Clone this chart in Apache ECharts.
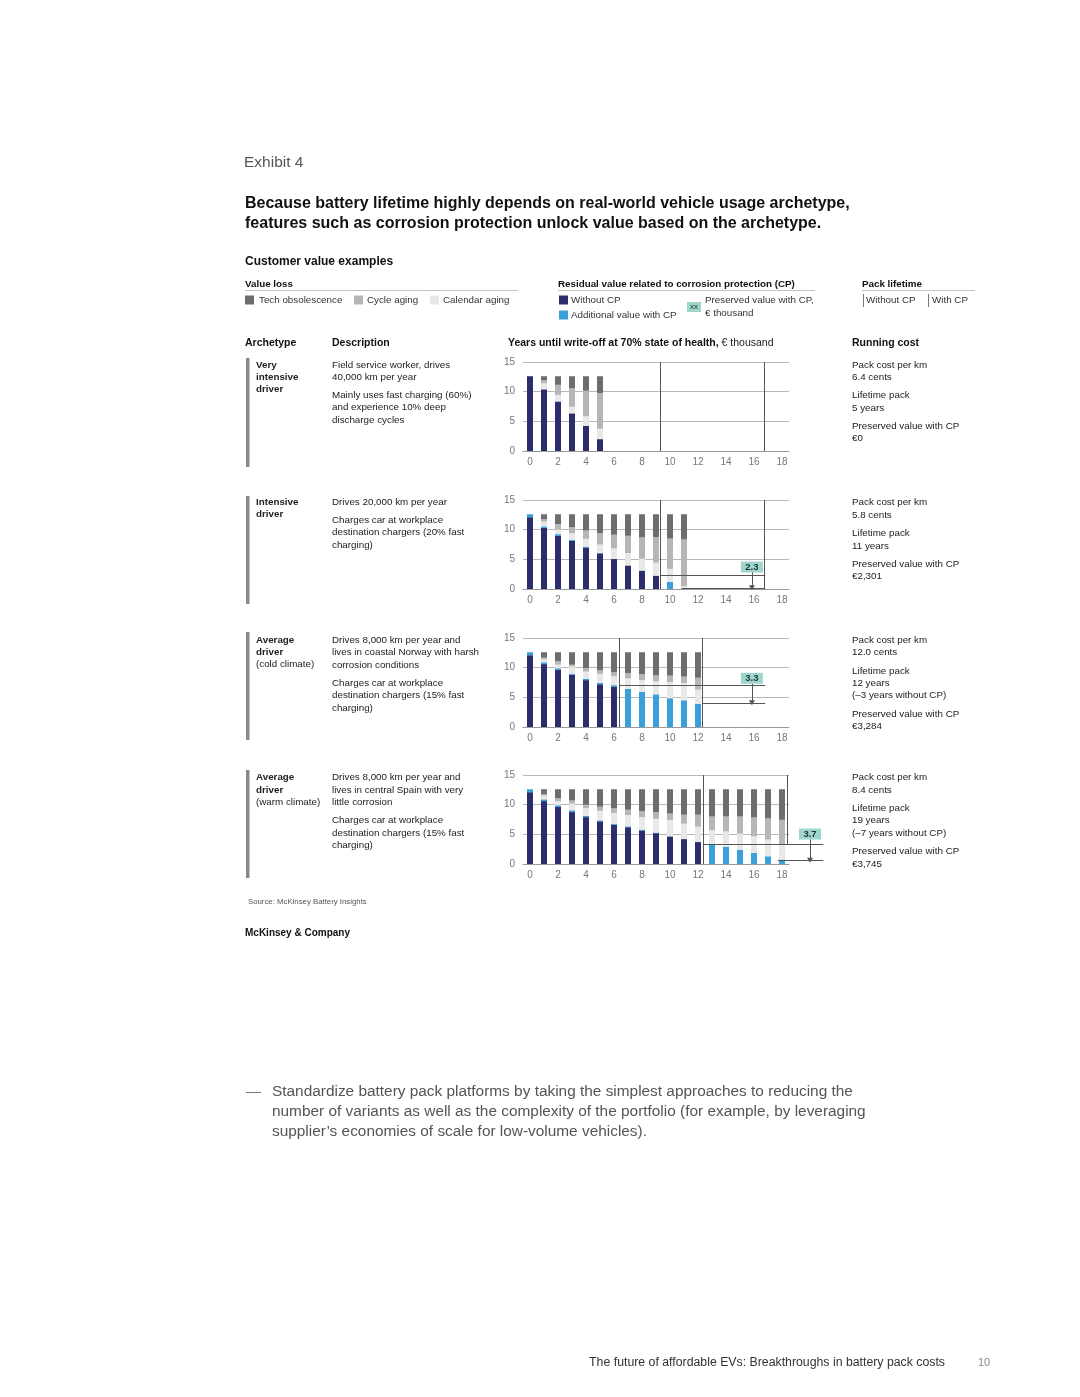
<!DOCTYPE html>
<html><head><meta charset="utf-8">
<script src="https://cdn.jsdelivr.net/npm/echarts@6/dist/echarts.min.js"></script>
<style>html,body{margin:0;padding:0;background:#fff}#c{width:1080px;height:1397px}</style>
</head><body><div id="c"></div><script>
// ---------- data ----------
const years = ['0','1','2','3','4','5','6','7','8','9','10','11','12','13','14','15','16','17','18'];
const yTicks = [0, 5, 10, 15];

// Panel 1: Very intensive driver
const p1WithoutCP = [12.6, 10.4, 8.35, 6.35, 4.25, 2.0, null, null, null, null, null, null, null, null, null, null, null, null, null];
const p1AddCP     = [0, 0, 0, 0, 0, 0, null, null, null, null, null, null, null, null, null, null, null, null, null];
const p1Calendar  = [0, 1.0, 1.1, 1.1, 1.6, 1.75, null, null, null, null, null, null, null, null, null, null, null, null, null];
const p1Cycle     = [0, 0.5, 1.7, 3.1, 4.3, 6.0, null, null, null, null, null, null, null, null, null, null, null, null, null];
const p1Tech      = [0, 0.7, 1.45, 2.05, 2.45, 2.85, null, null, null, null, null, null, null, null, null, null, null, null, null];

// Panel 2: Intensive driver
const p2WithoutCP = [12.1, 10.3, 8.95, 8.1, 7.0, 6.0, 5.05, 3.97, 3.1, 2.25, 0, 0, null, null, null, null, null, null, null];
const p2AddCP     = [0.5, 0.25, 0.3, 0.2, 0.15, 0.1, 0, 0, 0, 0, 1.2, 0.15, null, null, null, null, null, null, null];
const p2Calendar  = [0, 0.8, 0.8, 1.1, 1.3, 1.4, 1.8, 2.1, 2.0, 2.2, 2.2, 0.3, null, null, null, null, null, null, null];
const p2Cycle     = [0, 0.4, 0.9, 1.0, 1.4, 1.9, 2.3, 2.9, 3.6, 4.3, 5.1, 7.9, null, null, null, null, null, null, null];
const p2Tech      = [0, 0.85, 1.65, 2.2, 2.75, 3.2, 3.45, 3.63, 3.9, 3.85, 4.1, 4.25, null, null, null, null, null, null, null];

// Panel 3: Average driver (cold climate)
const p3WithoutCP = [12.1, 10.6, 9.6, 8.8, 7.9, 7.2, 6.75, 0, 0, 0, 0, 0, 0, null, null, null, null, null, null];
const p3AddCP     = [0.5, 0.3, 0.3, 0.2, 0.25, 0.25, 0.3, 6.4, 5.9, 5.5, 4.85, 4.5, 3.9, null, null, null, null, null, null];
const p3Calendar  = [0, 0.5, 0.6, 1.2, 1.2, 1.5, 1.5, 1.8, 2.0, 2.2, 2.7, 2.9, 2.4, null, null, null, null, null, null];
const p3Cycle     = [0, 0.3, 0.6, 0.3, 0.6, 0.6, 0.7, 0.9, 1.0, 1.0, 1.1, 1.1, 2.0, null, null, null, null, null, null];
const p3Tech      = [0, 0.9, 1.5, 2.1, 2.65, 3.05, 3.35, 3.5, 3.7, 3.9, 3.95, 4.1, 4.3, null, null, null, null, null, null];

// Panel 4: Average driver (warm climate)
const p4WithoutCP = [12.1, 10.6, 9.6, 8.75, 7.9, 7.2, 6.6, 6.2, 5.65, 5.2, 4.6, 4.2, 3.7, 0, 0, 0, 0, 0, 0];
const p4AddCP     = [0.5, 0.3, 0.3, 0.3, 0.2, 0.15, 0.2, 0.15, 0.15, 0.1, 0.1, 0, 0, 3.4, 2.9, 2.4, 1.85, 1.3, 0.75];
const p4Calendar  = [0, 0.6, 0.7, 1.1, 1.3, 1.6, 1.8, 1.9, 2.1, 2.3, 2.7, 2.6, 2.6, 2.3, 2.6, 2.7, 2.8, 2.8, 2.6];
const p4Cycle     = [0, 0.3, 0.5, 0.55, 0.6, 0.7, 0.8, 0.9, 1.0, 1.1, 1.1, 1.5, 2.0, 2.3, 2.5, 2.9, 3.2, 3.6, 4.1];
const p4Tech      = [0, 0.8, 1.5, 1.9, 2.6, 2.95, 3.2, 3.45, 3.7, 3.9, 4.1, 4.3, 4.3, 4.6, 4.6, 4.6, 4.75, 4.9, 5.15];

// Pack lifetime marker lines (year positions: without CP, with CP)
const lifetimeLines = [[9.3, 16.7], [9.3, 16.7], [6.35, 12.3], [12.35, 18.35]];
// Preserved value annotation (€ thousand)
const preservedLabels = [null, '2.3', '3.3', '3.7'];
const residualUpper   = [null, 2.4, 7.0, 3.37];   // residual at write-off without CP
const residualLower   = [null, 0.1, 4.0, 0.55];   // residual at write-off with CP
const lowerStartYear  = [null, 10.85, 12.3, 17.7];
const arrowYear       = [null, 15.85, 15.85, 20.0];
const labelLevel      = [null, 3.7, 8.2, 5.05];

// ---------- styles ----------
const FF = "'Liberation Sans', Arial, sans-serif";
const C_NAVY = '#2c2d6b', C_BLUE = '#3aa0d9', C_CAL = '#e8e8e8', C_CYC = '#b6b6b6', C_TECH = '#6d6d6d', C_TEAL = '#9fd6cc';
const panelTops = [362, 500, 638, 775];
const panelH = 89;

const panels = [
  [p1WithoutCP, p1AddCP, p1Calendar, p1Cycle, p1Tech],
  [p2WithoutCP, p2AddCP, p2Calendar, p2Cycle, p2Tech],
  [p3WithoutCP, p3AddCP, p3Calendar, p3Cycle, p3Tech],
  [p4WithoutCP, p4AddCP, p4Calendar, p4Cycle, p4Tech]
];
const segColors = [C_NAVY, C_BLUE, C_CAL, C_CYC, C_TECH];
const segNames = ['Without CP', 'Additional value with CP', 'Calendar aging', 'Cycle aging', 'Tech obsolescence'];

const grid = [], xAxis = [], yAxis = [], series = [];
panels.forEach((p, k) => {
  const top = panelTops[k];
  grid.push({left: 523, top: top, width: 266, height: panelH});
  grid.push({left: 523, top: top, width: 322, height: panelH});
  xAxis.push({gridIndex: 2*k, type: 'category', data: years, boundaryGap: true,
    axisTick: {show: false}, axisLine: {lineStyle: {color: '#9a9a9a'}},
    axisLabel: {interval: 1, color: '#777', fontSize: 10, margin: 6, fontFamily: FF}});
  xAxis.push({gridIndex: 2*k+1, type: 'value', min: -0.5, max: 22.5, show: false});
  yAxis.push({gridIndex: 2*k, type: 'value', min: yTicks[0], max: yTicks[3], interval: 5,
    axisLine: {show: false}, axisTick: {show: false},
    splitLine: {lineStyle: {color: '#b8b8b8', width: 1}},
    axisLabel: {color: '#777', fontSize: 10, margin: 8, fontFamily: FF}});
  yAxis.push({gridIndex: 2*k+1, type: 'value', min: 0, max: 15, show: false});
  p.forEach((arr, s) => {
    series.push({type: 'bar', name: segNames[s], xAxisIndex: 2*k, yAxisIndex: 2*k, stack: 'st' + k,
      barWidth: 6, data: arr, silent: true, itemStyle: {color: segColors[s]}});
  });
  // annotation overlay
  const L = lifetimeLines[k];
  const ml = [];
  ml.push([{coord: [L[0], 0]}, {coord: [L[0], 15]}]);
  if (k === 3) ml.push([{coord: [L[1], residualUpper[k]]}, {coord: [L[1], 15]}]);
  else ml.push([{coord: [L[1], 0]}, {coord: [L[1], 15]}]);
  const mp = [];
  if (preservedLabels[k]) {
    const endX = arrowYear[k] + 0.95;
    ml.push([{coord: [L[0], residualUpper[k]]}, {coord: [endX, residualUpper[k]]}]);
    ml.push([{coord: [lowerStartYear[k], residualLower[k]]}, {coord: [endX, residualLower[k]]}]);
    ml.push([{coord: [arrowYear[k], labelLevel[k] - 0.85]},
             {coord: [arrowYear[k], residualLower[k] + 0.1], symbol: 'triangle', symbolSize: [6, 5]}]);
    mp.push({coord: [arrowYear[k], labelLevel[k]], value: preservedLabels[k]});
  }
  series.push({type: 'line', xAxisIndex: 2*k+1, yAxisIndex: 2*k+1, data: [], silent: true,
    markLine: {silent: true, symbol: 'none', animation: false, label: {show: false},
      lineStyle: {color: '#555', width: 1, type: 'solid'}, emphasis: {disabled: true}, data: ml},
    markPoint: {silent: true, animation: false, symbol: 'rect', symbolSize: [22, 11],
      itemStyle: {color: C_TEAL},
      label: {show: true, position: 'inside', color: '#1c3434', fontSize: 9.5, fontWeight: 'bold', fontFamily: FF,
        formatter: (d) => d.value},
      data: mp}
  });
});

// ---------- page text ----------
const G = [];
function T(x, y, text, size, opt) {
  opt = opt || {};
  G.push({type: 'text', x: x, y: y, silent: true, z: 10,
    style: {text: text, fill: opt.fill || '#222', align: opt.align || 'left', verticalAlign: 'middle',
      font: (opt.bold ? 'bold ' : '') + size + 'px ' + FF, rich: opt.rich}});
}
function R(x, y, w, h, fill) { G.push({type: 'rect', silent: true, shape: {x, y, width: w, height: h}, style: {fill}}); }
function Ln(x1, y1, x2, y2, stroke, lw) { G.push({type: 'line', silent: true, shape: {x1, y1, x2, y2}, style: {stroke, lineWidth: lw || 1}}); }

T(244, 163, 'Exhibit 4', 15.5, {fill: '#555'});
T(245, 204, 'Because battery lifetime highly depends on real-world vehicle usage archetype,', 16, {bold: true, fill: '#111'});
T(245, 224, 'features such as corrosion protection unlock value based on the archetype.', 16, {bold: true, fill: '#111'});
T(245, 262, 'Customer value examples', 12, {bold: true, fill: '#111'});

T(245, 284, 'Value loss', 9.8, {bold: true, fill: '#111'});
Ln(245, 290.5, 518, 290.5, '#c4c4c4');
R(245, 295.5, 9, 9, C_TECH); T(259, 300.5, 'Tech obsolescence', 9.8, {fill: '#333'});
R(354, 295.5, 9, 9, C_CYC); T(367, 300.5, 'Cycle aging', 9.8, {fill: '#333'});
R(430, 295.5, 9, 9, C_CAL); T(443, 300.5, 'Calendar aging', 9.8, {fill: '#333'});

T(558, 284, 'Residual value related to corrosion protection (CP)', 9.8, {bold: true, fill: '#111'});
Ln(558, 290.5, 815, 290.5, '#c4c4c4');
R(559, 295.5, 9, 9, C_NAVY); T(571, 300.5, 'Without CP', 9.8, {fill: '#333'});
R(559, 310.5, 9, 9, C_BLUE); T(571, 315.5, 'Additional value with CP', 9.8, {fill: '#333'});
R(687, 302, 14, 10, C_TEAL); T(694, 307, 'xx', 8, {fill: '#1c3434', align: 'center'});
T(705, 300.5, 'Preserved value with CP,', 9.8, {fill: '#333'});
T(705, 313.5, '€ thousand', 9.8, {fill: '#333'});

T(862, 284, 'Pack lifetime', 9.8, {bold: true, fill: '#111'});
Ln(862, 290.5, 975, 290.5, '#c4c4c4');
Ln(863.5, 294, 863.5, 307, '#777'); T(866, 300.5, 'Without CP', 9.8, {fill: '#333'});
Ln(928.5, 294, 928.5, 307, '#777'); T(932, 300.5, 'With CP', 9.8, {fill: '#333'});

T(245, 343.5, 'Archetype', 10.5, {bold: true, fill: '#111'});
T(332, 343.5, 'Description', 10.5, {bold: true, fill: '#111'});
T(508, 343.5, '{b|Years until write-off at 70% state of health,}{r| € thousand}', 10.5, {fill: '#111',
  rich: {b: {fontWeight: 'bold', fontSize: 10.5, fontFamily: FF, fill: '#111'}, r: {fontSize: 10.5, fontFamily: FF, fill: '#222'}}});
T(852, 343.5, 'Running cost', 10.5, {bold: true, fill: '#111'});

const rowBars = [[358, 467], [496, 604], [632, 740], [770, 878]];
rowBars.forEach(b => R(246, b[0], 3.5, b[1] - b[0], '#8a8a8a'));

const archetypes = [
  [[365, 'Very', 1], [377, 'intensive', 1], [389, 'driver', 1]],
  [[502, 'Intensive', 1], [514, 'driver', 1]],
  [[640, 'Average', 1], [652, 'driver', 1], [664, '(cold climate)', 0]],
  [[777, 'Average', 1], [790, 'driver', 1], [802, '(warm climate)', 0]]
];
archetypes.forEach(r => r.forEach(l => T(256, l[0] + 0.5, l[1], 9.8, {bold: !!l[2], fill: '#222'})));

const descriptions = [
  [[365, 'Field service worker, drives'], [377, '40,000 km per year'], [395, 'Mainly uses fast charging (60%)'], [407, 'and experience 10% deep'], [420, 'discharge cycles']],
  [[502, 'Drives 20,000 km per year'], [520, 'Charges car at workplace'], [532, 'destination chargers (20% fast'], [545, 'charging)']],
  [[640, 'Drives 8,000 km per year and'], [652, 'lives in coastal Norway with harsh'], [665, 'corrosion conditions'], [683, 'Charges car at workplace'], [695, 'destination chargers (15% fast'], [708, 'charging)']],
  [[777, 'Drives 8,000 km per year and'], [790, 'lives in central Spain with very'], [802, 'little corrosion'], [820, 'Charges car at workplace'], [833, 'destination chargers (15% fast'], [845, 'charging)']]
];
descriptions.forEach(r => r.forEach(l => T(332, l[0] + 0.5, l[1], 9.8, {fill: '#222'})));

const running = [
  [[365, 'Pack cost per km'], [377, '6.4 cents'], [395, 'Lifetime pack'], [408, '5 years'], [426, 'Preserved value with CP'], [438, '€0']],
  [[502, 'Pack cost per km'], [515, '5.8 cents'], [533, 'Lifetime pack'], [546, '11 years'], [564, 'Preserved value with CP'], [576, '€2,301']],
  [[640, 'Pack cost per km'], [652, '12.0 cents'], [671, 'Lifetime pack'], [683, '12 years'], [695, '(–3 years without CP)'], [714, 'Preserved value with CP'], [726, '€3,284']],
  [[777, 'Pack cost per km'], [790, '8.4 cents'], [808, 'Lifetime pack'], [820, '19 years'], [833, '(–7 years without CP)'], [851, 'Preserved value with CP'], [864, '€3,745']]
];
running.forEach(r => r.forEach(l => T(852, l[0] + 0.5, l[1], 9.8, {fill: '#222'})));

T(248, 902, 'Source: McKinsey Battery Insights', 7.8, {fill: '#555'});
T(245, 933.5, 'McKinsey & Company', 10, {bold: true, fill: '#111'});

T(246, 1091.5, '—', 15, {fill: '#777'});
T(272, 1091.5, 'Standardize battery pack platforms by taking the simplest approaches to reducing the', 15.4, {fill: '#555'});
T(272, 1111.5, 'number of variants as well as the complexity of the portfolio (for example, by leveraging', 15.4, {fill: '#555'});
T(272, 1131.5, 'supplier’s economies of scale for low-volume vehicles).', 15.4, {fill: '#555'});

T(945, 1362.5, 'The future of affordable EVs: Breakthroughs in battery pack costs', 12.3, {fill: '#333', align: 'right'});
T(984, 1362.5, '10', 11, {fill: '#888', align: 'center'});

const chart = echarts.init(document.getElementById('c'), null, {renderer: 'canvas'});
chart.setOption({
  backgroundColor: '#fff',
  animation: false,
  grid, xAxis, yAxis, series,
  graphic: G
});
</script></body></html>
